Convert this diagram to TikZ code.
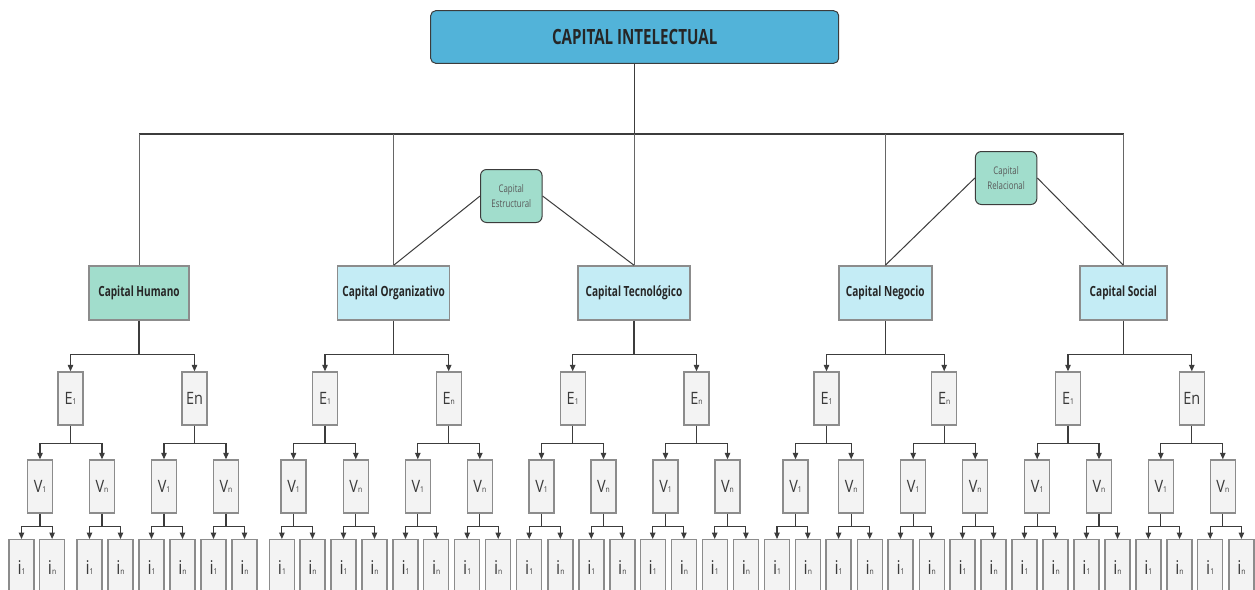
\documentclass[tikz,border=0pt]{standalone}
\usepackage{fontspec}
\usetikzlibrary{arrows.meta}
\newfontfamily\boldcond{Open Sans}[FakeStretch=0.72]
\newfontfamily\lightcond{Open Sans}[FakeStretch=0.85]
\newfontfamily\smallcond{Open Sans}[FakeStretch=0.75]
\definecolor{titlefill}{HTML}{52B3D9}
\definecolor{capfill}{HTML}{C4ECF5}
\definecolor{mintfill}{HTML}{A1DDCC}
\definecolor{boxfill}{HTML}{F3F3F3}
\definecolor{boxline}{HTML}{8C8C8C}
\definecolor{linecol}{HTML}{3C3C3C}
\definecolor{txtcol}{HTML}{3A3A3A}
\newcommand\idx[1]{{\fontsize{8}{8}\selectfont #1}}
\tikzset{
  titlebox/.style={draw=linecol, line width=1pt, fill=titlefill, rounded corners=5pt,
    minimum width=408pt, minimum height=52.6pt, inner sep=0pt,
    font=\boldcond\bfseries\fontsize{21}{24}\selectfont, text=black!85},
  capbox/.style={draw=boxline, line width=1.5pt, fill=capfill, minimum height=54pt, inner sep=0pt,
    font=\boldcond\bfseries\fontsize{14}{16}\selectfont, text=black!85},
  groupbox/.style={draw=linecol, line width=1pt, fill=mintfill, rounded corners=6pt,
    minimum width=61.5pt, minimum height=53pt, inner sep=0pt, align=center,
    font=\smallcond\fontsize{10.5}{15}\selectfont, text=black!65},
  leafbox/.style={draw=boxline, line width=1.4pt, fill=boxfill, minimum width=25pt,
    minimum height=53pt, inner sep=0pt, font=\lightcond\fontsize{17}{20}\selectfont, text=txtcol},
  ibox/.style={leafbox, minimum height=56pt, anchor=north, font=\lightcond\fontsize{19}{20}\selectfont},
  conn/.style={draw=linecol, line width=1.1pt},
  thin/.style={draw=black!60, line width=1pt},
  arr/.style={conn, -{Triangle[width=5.5pt,length=6.5pt]}}
}
\begin{document}
\begin{tikzpicture}[x=1pt,y=-1pt]
\clip (0,0) rectangle (1255,589);
\fill[white] (0,0) rectangle (1255,589);

% title
\node[titlebox] (ci) at (634.7,37) {CAPITAL INTELECTUAL};

% capitals
\node[capbox, fill=mintfill, minimum width=100pt] (c1) at (139,293) {Capital Humano};
\node[capbox, minimum width=112pt] (c2) at (393.7,293) {Capital Organizativo};
\node[capbox, minimum width=112pt] (c3) at (634,293) {Capital Tecnológico};
\node[capbox, minimum width=93pt] (c4) at (885.3,293) {Capital Negocio};
\node[capbox, minimum width=86.7pt] (c5) at (1123.4,293) {Capital Social};

% group boxes
\node[groupbox] (est) at (511.3,196) {Capital\\Estructural};
\node[groupbox] (rel) at (1006.1,178) {Capital\\Relacional};

% top connectors
\coordinate (barL) at (139,134);
\coordinate (barR) at (1124,134);
\draw[conn] (ci.south) -- (ci.south |- barL);
\draw[conn] (barL) -- (barR);
\foreach \c in {1,...,5}{
  \draw[thin] (c\c.north |- barL) -- (c\c.north);
}
\draw[thin, draw=linecol] (est.west) -- (c2.north);
\draw[thin, draw=linecol] (est.east) -- (c3.north);
\draw[thin, draw=linecol] (rel.west) -- (c4.north);
\draw[thin, draw=linecol] (rel.east) -- (c5.north);

% E level
\foreach \x/\lab [count=\k] in {70.5/{E\idx{1}}, 194.5/{En}, 325/{E\idx{1}}, 448.7/{E\idx{n}},
  572.7/{E\idx{1}}, 696.5/{E\idx{n}}, 826.5/{E\idx{1}}, 944.2/{E\idx{n}},
  1068/{E\idx{1}}, 1191.8/{En}}{
  \node[leafbox] (e\k) at (\x,398.5) {\lab};
}

% V level
\foreach \x [count=\k] in {40,102,164,226,293.5,355.8,417.8,479.8,541.5,603.5,
  665.5,727.5,795.5,851.2,913.2,975.2,1037.2,1099,1160.8,1222.8}{
  \ifodd\k
    \node[leafbox] (v\k) at (\x,486.5) {V\idx{1}};
  \else
    \node[leafbox] (v\k) at (\x,486.5) {V\idx{n}};
  \fi
}

% i level
\foreach \x [count=\k] in {21.5,52.1,89.5,120.5,151.5,182.5,213.5,244.5,281.9,312.5,
  343.5,374.5,405.5,436.2,467.2,498.2,529.2,560.3,591.3,622.3,
  652.7,683.9,714.7,745.9,777,807.8,838.6,869.7,900.5,931.7,
  962.5,993.6,1024.4,1055.6,1086.4,1117.5,1148.3,1179.5,1210.2,1241.4}{
  \ifodd\k
    \node[ibox] (i\k) at (\x,539) {i\idx{1}};
  \else
    \node[ibox] (i\k) at (\x,539) {i\idx{n}};
  \fi
}

% capital -> E
\foreach \c in {1,...,5}{
  \pgfmathtruncatemacro\a{2*\c-1}\pgfmathtruncatemacro\b{2*\c}
  \draw[conn] (c\c.south) -- ++(0,34);
  \draw[arr] (c\c.south) ++(0,34) -| (e\a.north);
  \draw[arr] (c\c.south) ++(0,34) -| (e\b.north);
}
% E -> V
\foreach \c in {1,...,10}{
  \pgfmathtruncatemacro\a{2*\c-1}\pgfmathtruncatemacro\b{2*\c}
  \draw[conn] (e\c.south) -- ++(0,18);
  \draw[arr] (e\c.south) ++(0,18) -| (v\a.north);
  \draw[arr] (e\c.south) ++(0,18) -| (v\b.north);
}
% V -> i
\foreach \c in {1,...,20}{
  \pgfmathtruncatemacro\a{2*\c-1}\pgfmathtruncatemacro\b{2*\c}
  \draw[conn] (v\c.south) -- ++(0,13);
  \draw[arr] (v\c.south) ++(0,13) -| (i\a.north);
  \draw[arr] (v\c.south) ++(0,13) -| (i\b.north);
}
\end{tikzpicture}
\end{document}
